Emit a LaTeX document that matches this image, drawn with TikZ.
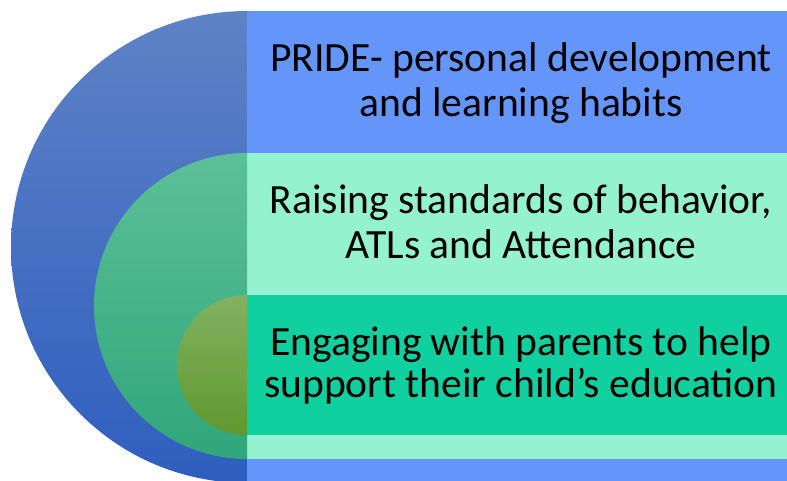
\documentclass[tikz,border=0pt]{standalone}
\usepackage{fontspec}
\setmainfont{Carlito}
\definecolor{outertop}{RGB}{94,130,198}
\definecolor{outerbot}{RGB}{46,94,190}
\definecolor{midtop}{RGB}{92,192,152}
\definecolor{midbot}{RGB}{48,166,122}
\definecolor{innertop}{RGB}{130,178,98}
\definecolor{innerbot}{RGB}{96,152,46}
\definecolor{pridefill}{RGB}{100,150,250}
\definecolor{raisefill}{RGB}{148,242,208}
\definecolor{engagefill}{RGB}{16,208,160}
\begin{document}
\begin{tikzpicture}[x=1pt, y=1pt, bandtext/.style={align=center, anchor=base, text=black, inner sep=0pt, font=\fontsize{41.6}{45}\selectfont}]
  \useasboundingbox (0, 0) rectangle (787, 480);
  \clip (0, 0) rectangle (787, 480);
  \shade[top color=outertop, bottom color=outerbot] (247, 469) arc [start angle=90, end angle=270, radius=236] -- cycle;
  \fill[pridefill] (247, -3) rectangle (787, 469);
  \fill[raisefill] (247, 21) rectangle (787, 327);
  \shade[top color=midtop, bottom color=midbot] (247, 327) arc [start angle=90, end angle=270, radius=153] -- cycle;
  \fill[engagefill] (247, 45) rectangle (787, 185);
  \shade[top color=innertop, bottom color=innerbot] (247, 185) arc [start angle=90, end angle=270, radius=70] -- cycle;
  \node[bandtext] (pride) at (521, 363) {PRIDE- personal development\\and learning habits};
  \node[bandtext] (raise) at (521, 222) {Raising standards of behavior,\\ATLs and Attendance};
  \node[bandtext, font=\fontsize{41.6}{42}\selectfont] (engage) at (521, 83) {Engaging with parents to help\\support their child’s education};
\end{tikzpicture}
\end{document}
